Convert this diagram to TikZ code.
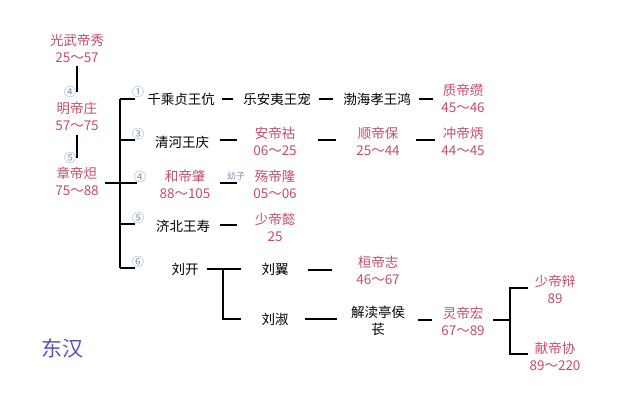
\documentclass[tikz,border=0pt]{standalone}
\usepackage{fontspec}
\setmainfont{Noto Sans CJK SC}
\begin{document}
\begin{tikzpicture}[x=1pt,y=-1pt,
  emp/.style={text=empred,align=center,font=\fontsize{13.5}{17}\selectfont,inner sep=1pt},
  per/.style={text=black,align=center,font=\fontsize{13.5}{17}\selectfont,inner sep=1pt},
  num/.style={text=numblue,font=\fontsize{12}{12}\selectfont,inner sep=0pt},
  ln/.style={line width=1.1pt,black}]
\definecolor{empred}{RGB}{196,78,102}
\definecolor{numblue}{RGB}{120,150,185}
\definecolor{dhblue}{RGB}{90,80,190}
\useasboundingbox (0,0) rectangle (640,400);
\fill[white] (0,0) rectangle (640,400);
% left column
\node[emp] (gw) at (77,48) {光武帝秀\\25～57};
\node[emp] (md) at (77,116) {明帝庄\\57～75};
\node[emp] (zd) at (77,181) {章帝炟\\75～88};
\node[num] (n4a) at (70,92) {④};
\node[num] (n5a) at (70,158) {⑤};
\draw[ln] (gw.south) ++(0,2) -- (77,92);
\draw[ln] (77,135) -- (77,158);
% trunk
\coordinate (t1) at (120,99);
\coordinate (t6) at (120,268);
\draw[ln] (t1) -- (t6);
\draw[ln] (105,183) -- (137,183);
\foreach \y in {99,140,224,268} \draw[ln] (120,\y) -- (135,\y);
\node[num] at (138,92) {①};
\node[num] at (138,134) {③};
\node[num] at (140,177) {④};
\node[num] at (138,218) {⑤};
\node[num] at (138,262) {⑥};
% row 1
\node[per] (qc) at (181,99) {千乘贞王伉};
\node[per] (la) at (277,99) {乐安夷王宠};
\node[per] (bh) at (377,99) {渤海孝王鸿};
\node[emp] (zhi) at (463,98) {质帝缵\\45～46};
\draw[ln] (222,99) -- (233,99);
\draw[ln] (319,99) -- (333,99);
\draw[ln] (419,99) -- (433,99);
% row 3
\node[per] (qh) at (182,142) {清河王庆};
\node[emp] (an) at (275,141) {安帝祜\\06～25};
\node[emp] (sh) at (378,141) {顺帝保\\25～44};
\node[emp] (ch) at (463,141) {冲帝炳\\44～45};
\draw[ln] (220,140) -- (237,140);
\draw[ln] (318,140) -- (336,140);
\draw[ln] (416,140) -- (435,140);
% row 4
\node[emp] (he) at (185,184) {和帝肇\\88～105};
\node[emp] (shang) at (275,184) {殇帝隆\\05～06};
\draw[ln] (220,183) -- (237,183);
\node[num,font=\fontsize{9}{10}\selectfont] at (236,176) {幼子};
% row 5
\node[per] (jb) at (183,226) {济北王寿};
\node[emp] (sy) at (275,227) {少帝懿\\25};
\draw[ln] (220,225) -- (237,225);
% row 6
\node[per] (lk) at (185,269) {刘开};
\node[per] (ly) at (275,269) {刘翼};
\node[per] (ls) at (275,319) {刘淑};
\node[emp] (huan) at (378,270) {桓帝志\\46～67};
\draw[ln] (207,269) -- (241,269);
\draw[ln] (223,269) -- (223,319) -- (241,319);
\draw[ln] (308,270) -- (332,270);
\node[per] (jd) at (378,321) {解渎亭侯\\苌};
\node[emp] (ling) at (463,321) {灵帝宏\\67～89};
\draw[ln] (305,319) -- (337,319);
\draw[ln] (418,320) -- (432,320);
\draw[ln] (493,320) -- (510,320);
\draw[ln] (528,288) -- (510,288) -- (510,354) -- (528,354);
\node[emp] (sb) at (555,289) {少帝辩\\89};
\node[emp] (xd) at (555,356) {献帝协\\89～220};
\node[text=dhblue,font=\fontsize{21}{24}\selectfont] (dh) at (62,348) {东汉};
\end{tikzpicture}
\end{document}
